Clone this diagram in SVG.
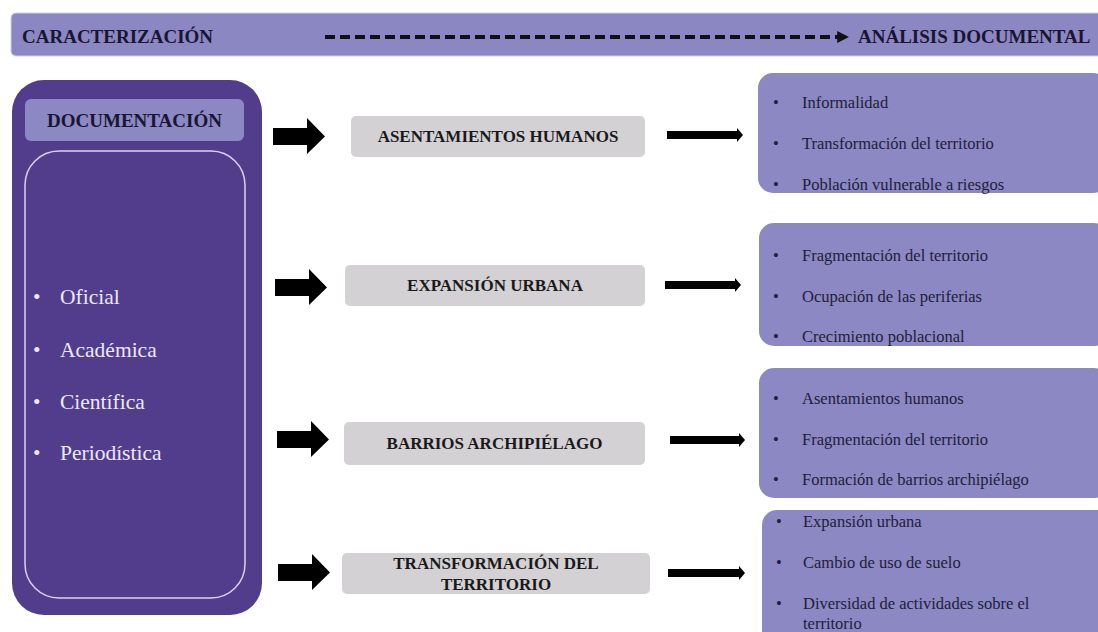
<svg xmlns="http://www.w3.org/2000/svg" width="1098" height="632" viewBox="0 0 1098 632">
<defs>
<style>
.bar{fill:#8b87c3;}
.hdr{font-family:'Liberation Serif','DejaVu Serif',serif;font-weight:bold;fill:#1a1530;}
.doc{fill:#523d8d;}
.docin{fill:none;stroke:#d9d2ee;stroke-width:1.5;}
.lst{font-family:'Liberation Serif','DejaVu Serif',serif;font-size:21.5px;fill:#ece8f6;}
.gray{fill:#d3d1d3;}
.gt{font-family:'Liberation Serif','DejaVu Serif',serif;font-weight:bold;font-size:17px;fill:#1a1a1a;text-anchor:middle;}
.rb{fill:#8b88c3;}
.it{font-family:'Liberation Serif','DejaVu Serif',serif;font-size:16.5px;fill:#221d38;}
.blk{fill:#000;}
</style>
<marker id="dh" viewBox="0 0 10 10" refX="9" refY="5" markerWidth="3" markerHeight="3" orient="auto" markerUnits="strokeWidth">
<path d="M0,0 L10,5 L0,10 z" fill="#111"/>
</marker>
</defs>
<rect width="1098" height="632" fill="#ffffff"/>

<g id="top-bar">
<rect class="bar" x="11" y="13" width="1100" height="43" rx="5" stroke="#cfd0e0" stroke-width="1"/>
<text class="hdr" x="22" y="43" font-size="19">CARACTERIZACIÓN</text>
<text class="hdr" x="858" y="43" font-size="19">ANÁLISIS DOCUMENTAL</text>
</g>

<g id="documentacion">
<rect class="doc" x="12" y="80" width="250" height="535" rx="32"/>
<rect fill="#8b88c3" x="25" y="99" width="219" height="42" rx="6"/>
<text class="hdr" x="134.5" y="127" font-size="19" text-anchor="middle">DOCUMENTACIÓN</text>
<rect class="docin" x="25" y="151" width="220" height="447" rx="34"/>
<text class="lst" x="33" y="304">•</text><text class="lst" x="60" y="304">Oficial</text>
<text class="lst" x="33" y="357">•</text><text class="lst" x="60" y="357">Académica</text>
<text class="lst" x="33" y="409">•</text><text class="lst" x="60" y="409">Científica</text>
<text class="lst" x="33" y="460">•</text><text class="lst" x="60" y="460">Periodística</text>
</g>

<g id="connectors">
<line x1="325" y1="37" x2="848" y2="37" stroke="#111" stroke-width="4" stroke-dasharray="10,5" marker-end="url(#dh)"/>
<polygon class="blk" points="273,128 307,128 307,118 325,136.5 307,154 307,145 273,145"/>
<polygon class="blk" points="275,279 309,279 309,269 327,287.5 309,305 309,296 275,296"/>
<polygon class="blk" points="277,431 311,431 311,421 329,439.5 311,457 311,448 277,448"/>
<polygon class="blk" points="278,564 312,564 312,554 330,572.5 312,590 312,581 278,581"/>
<polygon class="blk" points="667,131 737,131 737,128 743,135 737,142 737,139 667,139"/>
<polygon class="blk" points="665,281 735,281 735,278 741,285 735,292 735,289 665,289"/>
<polygon class="blk" points="670,436 739,436 739,433 745,440 739,447 739,444 670,444"/>
<polygon class="blk" points="668,569 739,569 739,566 745,573 739,580 739,577 668,577"/>
</g>

<g id="asentamientos">
<rect class="gray" x="351" y="116" width="294" height="41" rx="5"/>
<text class="gt" x="498" y="142">ASENTAMIENTOS HUMANOS</text>
</g>
<g id="expansion">
<rect class="gray" x="345" y="265" width="300" height="41" rx="5"/>
<text class="gt" x="495" y="291">EXPANSIÓN URBANA</text>
</g>
<g id="barrios">
<rect class="gray" x="344" y="422" width="301" height="43" rx="5"/>
<text class="gt" x="494.5" y="449">BARRIOS ARCHIPIÉLAGO</text>
</g>
<g id="transformacion">
<rect class="gray" x="342" y="553" width="308" height="41" rx="5"/>
<text class="gt" x="496" y="569">TRANSFORMACIÓN DEL</text>
<text class="gt" x="496" y="590">TERRITORIO</text>
</g>

<g id="r1">
<rect class="rb" x="758" y="73" width="350" height="120" rx="15"/>
<text class="it" x="773" y="108">•</text><text class="it" x="802" y="108">Informalidad</text>
<text class="it" x="773" y="149">•</text><text class="it" x="802" y="149">Transformación del territorio</text>
<text class="it" x="773" y="190">•</text><text class="it" x="802" y="190">Población vulnerable a riesgos</text>
</g>
<g id="r2">
<rect class="rb" x="759" y="223" width="350" height="123" rx="15"/>
<text class="it" x="773" y="261">•</text><text class="it" x="802" y="261">Fragmentación del territorio</text>
<text class="it" x="773" y="302">•</text><text class="it" x="802" y="302">Ocupación de las periferias</text>
<text class="it" x="773" y="342">•</text><text class="it" x="802" y="342">Crecimiento poblacional</text>
</g>
<g id="r3">
<rect class="rb" x="759" y="368" width="350" height="130" rx="15"/>
<text class="it" x="773" y="404">•</text><text class="it" x="802" y="404">Asentamientos humanos</text>
<text class="it" x="773" y="445">•</text><text class="it" x="802" y="445">Fragmentación del territorio</text>
<text class="it" x="773" y="485">•</text><text class="it" x="802" y="485">Formación de barrios archipiélago</text>
</g>
<g id="r4">
<rect class="rb" x="762" y="510" width="350" height="140" rx="15"/>
<text class="it" x="776" y="527">•</text><text class="it" x="803" y="527">Expansión urbana</text>
<text class="it" x="776" y="568">•</text><text class="it" x="803" y="568">Cambio de uso de suelo</text>
<text class="it" x="776" y="609">•</text><text class="it" x="803" y="609">Diversidad de actividades sobre el</text>
<text class="it" x="803" y="629">territorio</text>
</g>
</svg>
